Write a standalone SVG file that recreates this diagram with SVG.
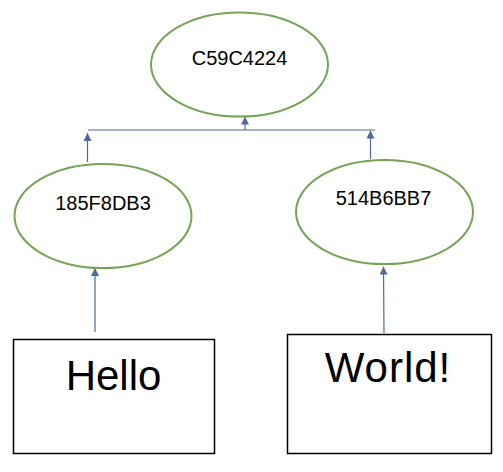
<svg xmlns="http://www.w3.org/2000/svg" width="503" height="472" viewBox="0 0 503 472">
<defs>
<style>
.ell{fill:#fff;stroke:#76a456;stroke-width:2}
.box{fill:#fff;stroke:#000;stroke-width:1.5}
.con{stroke:#4f6a9a;stroke-width:1.2;fill:none}
.hash{font-family:"Liberation Sans",Arial,sans-serif;font-size:20px;fill:#000;text-anchor:middle}
.big{font-family:"Liberation Sans",Arial,sans-serif;font-size:42px;fill:#000;text-anchor:middle}
</style>
<marker id="ah" viewBox="0 0 10 10" refX="10" refY="5" markerWidth="9" markerHeight="8" markerUnits="userSpaceOnUse" orient="auto">
<path d="M0,0 L10,5 L0,10 Z" fill="#4f6a9a"/>
</marker>
</defs>
<g id="connectors">
<line class="con" x1="88" y1="130" x2="375" y2="130"/>
<line class="con" x1="245" y1="130" x2="245" y2="116.5" marker-end="url(#ah)"/>
<line class="con" x1="87.5" y1="162" x2="87.5" y2="133" marker-end="url(#ah)"/>
<line class="con" x1="370.5" y1="159" x2="370.5" y2="130.5" marker-end="url(#ah)"/>
<line class="con" x1="95" y1="332" x2="95" y2="268" marker-end="url(#ah)"/>
<line class="con" x1="384" y1="333" x2="383.5" y2="266.5" marker-end="url(#ah)"/>
</g>
<g id="root">
<ellipse class="ell" cx="239.5" cy="64.5" rx="88.5" ry="52"/>
<text class="hash" x="239.5" y="65">C59C4224</text>
</g>
<g id="left">
<ellipse class="ell" cx="103" cy="216" rx="88.5" ry="52"/>
<text class="hash" x="103" y="209.5">185F8DB3</text>
</g>
<g id="right">
<ellipse class="ell" cx="384.5" cy="212" rx="88.5" ry="52"/>
<text class="hash" x="383.5" y="205">514B6BB7</text>
</g>
<g id="hello">
<rect class="box" x="13.5" y="339.5" width="201" height="114"/>
<text class="big" x="113.5" y="390">Hello</text>
</g>
<g id="world">
<rect class="box" x="287.5" y="334.5" width="204" height="119"/>
<text class="big" x="388" y="381.5" style="letter-spacing:1px">World!</text>
</g>
</svg>
